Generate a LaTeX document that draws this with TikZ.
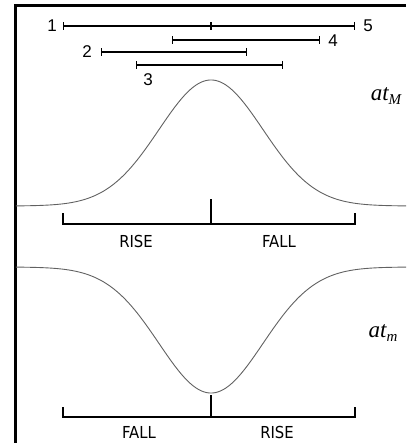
\documentclass[tikz,border=0pt]{standalone}
\usepackage{fontspec}
\setmainfont{DejaVu Sans Condensed}
\newfontfamily\serifit{Liberation Serif}
\newfontfamily\digitfont{Liberation Sans}
\usetikzlibrary{arrows.meta}
\begin{document}
\begin{tikzpicture}[x=1pt,y=-1pt,
  numlbl/.style={font=\fontsize{17}{17}\selectfont\digitfont, inner sep=0pt},
  wordlbl/.style={font=\fontsize{16.5}{17}\selectfont, inner sep=0pt},
  curvelbl/.style={font=\fontsize{23}{23}\selectfont\serifit\itshape, inner sep=0pt},
  span/.style={line width=1.4pt, {Bar[width=8pt]}-{Bar[width=8pt]}},
  curve/.style={line width=0.9pt, black!62},
  bracket/.style={line width=1.4pt},
  frame/.style={line width=2.8pt}]
\useasboundingbox (0,0) rectangle (406,443);
% frame
\draw[frame] (406,5.3) -- (15.8,5.3) -- (15.8,443);
% span bars
\coordinate (b1l) at (63,26);  \coordinate (b1r) at (355,26); \coordinate (b1m) at (211,26);
\coordinate (b4l) at (172,40); \coordinate (b4r) at (320,40);
\coordinate (b2l) at (101,52); \coordinate (b2r) at (247,52);
\coordinate (b3l) at (136,65); \coordinate (b3r) at (283,65);
\draw[span] (b1l) -- (b1r);
\draw[line width=1.4pt] ([yshift=-4pt]b1m) -- ([yshift=4pt]b1m);
\draw[span] (b4l) -- (b4r);
\draw[span] (b2l) -- (b2r);
\draw[span] (b3l) -- (b3r);
\node[numlbl] (n1) at (52,26) {1};
\node[numlbl] (n5) at (368,26) {5};
\node[numlbl] (n4) at (333,41) {4};
\node[numlbl] (n2) at (87,52) {2};
\node[numlbl] (n3) at (148,80) {3};
% upper curve
\draw[curve] plot[domain=15.8:406, samples=200] (\x, {206-126*exp(-0.5*((\x-211)/52)^2)});
\node[curvelbl] (aM) at (386,96) {at\raisebox{-0.35ex}{\fontsize{15}{15}\selectfont M}};
% upper bracket
\coordinate (u1) at (63,213); \coordinate (u2) at (63,224);
\coordinate (u3) at (355,224); \coordinate (u4) at (355,213);
\coordinate (um) at (211,224); \coordinate (ut) at (211,199);
\draw[bracket] (u1) -- (u2) -- (u3) -- (u4);
\draw[bracket] (um) -- (ut);
\node[wordlbl] (r1) at (136,241) {RISE};
\node[wordlbl] (f1) at (279,241) {FALL};
% lower curve
\draw[curve] plot[domain=15.8:406, samples=200] (\x, {267+126*exp(-0.5*((\x-211)/52)^2)});
\node[curvelbl] (am) at (383,333) {at\raisebox{-0.35ex}{\fontsize{15}{15}\selectfont m}};
% lower bracket
\coordinate (l1) at (63,407); \coordinate (l2) at (63,417);
\coordinate (l3) at (355,417); \coordinate (l4) at (355,407);
\coordinate (lm) at (211,417); \coordinate (lt) at (211,395);
\draw[bracket] (l1) -- (l2) -- (l3) -- (l4);
\draw[bracket] (lm) -- (lt);
\node[wordlbl] (f2) at (139,432) {FALL};
\node[wordlbl] (r2) at (277,432) {RISE};
\end{tikzpicture}
\end{document}
